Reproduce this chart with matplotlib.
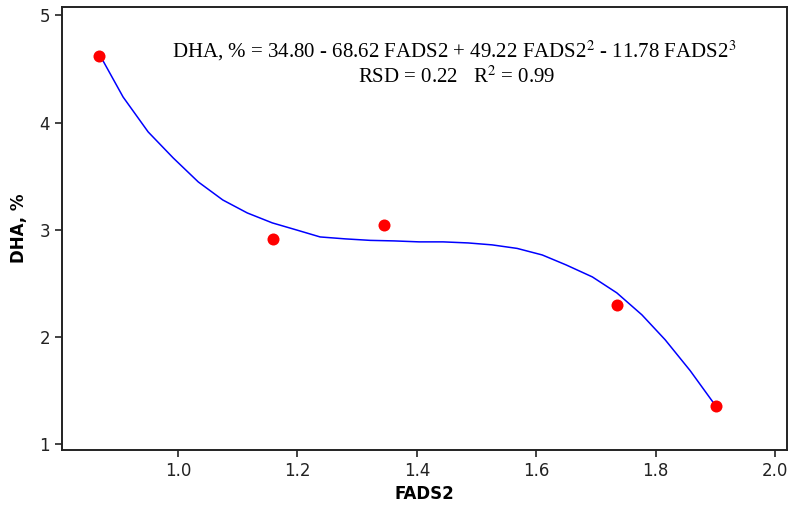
import numpy as np
import matplotlib
matplotlib.use("Agg")
import matplotlib.pyplot as plt

# measured points
fads2 = [0.868, 1.159, 1.345, 1.735, 1.901]
dha = [4.62, 2.915, 3.04, 2.30, 1.358]

# fitted curve
fit_x = [0.869, 0.908, 0.950, 0.992, 1.034, 1.075, 1.116, 1.158, 1.198, 1.238,
         1.280, 1.322, 1.362, 1.404, 1.444, 1.486, 1.526, 1.568, 1.610, 1.650,
         1.694, 1.735, 1.777, 1.816, 1.858, 1.900]
fit_y = [4.630, 4.238, 3.912, 3.669, 3.445, 3.277, 3.156, 3.063, 2.998, 2.932,
         2.914, 2.900, 2.895, 2.886, 2.886, 2.876, 2.858, 2.825, 2.764, 2.671,
         2.559, 2.410, 2.205, 1.972, 1.683, 1.360]

x_ticks = [1.0, 1.2, 1.4, 1.6, 1.8, 2.0]
y_ticks = [1, 2, 3, 4, 5]

plt.rcParams["mathtext.fontset"] = "stix"

fig = plt.figure(figsize=(7.88, 5.05), dpi=100)
ax = fig.add_axes([0.0787, 0.109, 0.92, 0.8765])

ax.plot(fit_x, fit_y, color="#0000ff", lw=1.1, zorder=2)
ax.scatter(fads2, dha, s=75, color="#ff0000", zorder=3, linewidths=0)

ax.set_xlim(0.8057, 2.020)
ax.set_ylim(0.944, 5.075)
ax.set_xticks(x_ticks)
ax.set_xticklabels(["%.1f" % t for t in x_ticks])
ax.set_yticks(y_ticks)
ax.tick_params(direction="out", length=5, width=1.2, labelsize=12, colors="#222222")
for s in ax.spines.values():
    s.set_linewidth(1.4)
    s.set_color("#222222")

ax.set_xlabel("FADS2", fontsize=12, fontweight="bold", labelpad=4)
ax.set_ylabel("DHA, %", fontsize=12, fontweight="bold", labelpad=8)

ax.text(0.5407, 0.8877,
        "DHA, % = 34.80 - 68.62 FADS2 + 49.22 FADS2$^{2}$ - 11.78 FADS2$^{3}$",
        transform=ax.transAxes, ha="center", va="baseline",
        fontsize=15, family="Liberation Serif")
ax.text(0.544, 0.829, "RSD = 0.22   R$^{2}$ = 0.99",
        transform=ax.transAxes, ha="center", va="baseline",
        fontsize=15, family="Liberation Serif")

plt.savefig("out.png", dpi=100)
